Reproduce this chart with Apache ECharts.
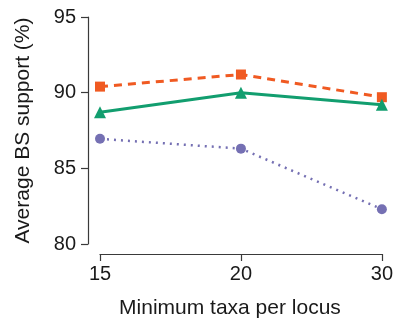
<!DOCTYPE html>
<html><head><meta charset="utf-8">
<script src="https://cdn.jsdelivr.net/npm/echarts@6/dist/echarts.min.js"></script>
<style>html,body{margin:0;padding:0;background:#fff}#c{width:396px;height:324px}</style>
</head><body><div id="c"></div>
<script>
const categories = ['15', '20', '30'];
const orangeSeries = [90.4, 91.2, 89.7];
const greenSeries = [88.7, 90.0, 89.2];
const purpleSeries = [86.95, 86.3, 82.3];
const yTicks = [80, 85, 90, 95];

const chart = echarts.init(document.getElementById('c'), null, {renderer: 'canvas'});
const axisColor = '#3a3a3a';
const textColor = '#1a1a1a';
const font = 'Liberation Sans, Arial, sans-serif';
chart.setOption({
  animation: false,
  grid: {left: 100, right: 13, top: 17, bottom: 79},
  xAxis: {
    type: 'category', data: categories, boundaryGap: false, offset: 10,
    axisLine: {lineStyle: {color: axisColor, width: 1.2}},
    axisTick: {alignWithLabel: true, length: 7, lineStyle: {color: axisColor, width: 1.2}},
    axisLabel: {fontSize: 20, color: textColor, fontFamily: font, margin: 10},
    name: 'Minimum taxa per locus', nameLocation: 'middle', nameGap: 44,
    nameTextStyle: {fontSize: 21, color: textColor, fontFamily: font, padding: [0, 22, 0, 0]},
    splitLine: {show: false}
  },
  yAxis: {
    type: 'value', min: yTicks[0], max: yTicks[yTicks.length - 1], interval: 5, offset: 12,
    axisLine: {show: true, lineStyle: {color: axisColor, width: 1.2}},
    axisTick: {show: true, length: 7, lineStyle: {color: axisColor, width: 1.2}},
    axisLabel: {fontSize: 20, color: textColor, fontFamily: font, margin: 12},
    splitLine: {show: false},
    name: 'Average BS support (%)', nameLocation: 'middle', nameGap: 54,
    nameTextStyle: {fontSize: 21, color: textColor, fontFamily: font}
  },
  series: [
    {type: 'line', data: orangeSeries, symbol: 'rect', symbolSize: 10,
     lineStyle: {color: '#f05a22', width: 3, type: [8, 6]}, itemStyle: {color: '#f05a22'}},
    {type: 'line', data: greenSeries, symbol: 'triangle', symbolSize: 12,
     lineStyle: {color: '#129e6f', width: 3}, itemStyle: {color: '#129e6f'}},
    {type: 'line', data: purpleSeries, symbol: 'circle', symbolSize: 10,
     lineStyle: {color: '#7570b3', width: 2.5, type: [2, 5]}, itemStyle: {color: '#7570b3'}}
  ]
});
</script></body></html>
